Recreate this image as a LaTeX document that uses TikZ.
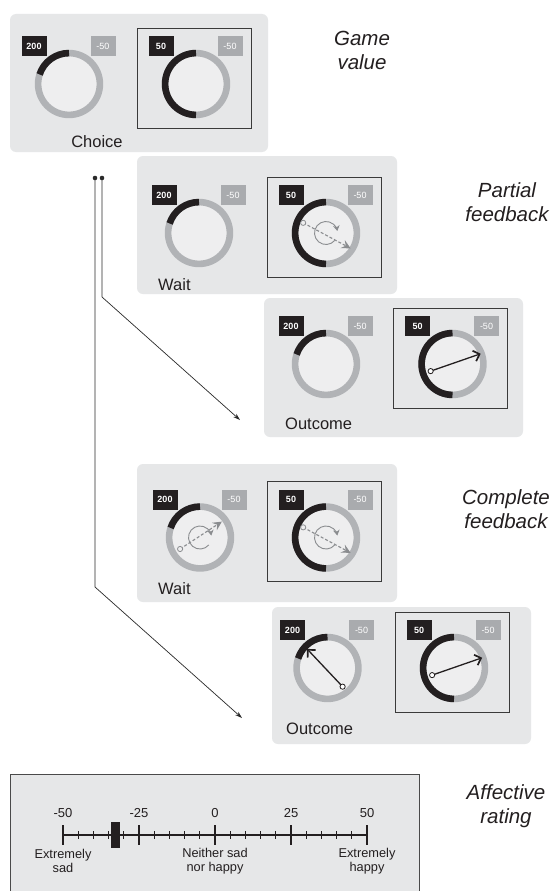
\documentclass[tikz,border=0pt]{standalone}
\usepackage{fontspec}
\setmainfont{Liberation Sans}
\usetikzlibrary{arrows.meta,calc}
\definecolor{panelgray}{HTML}{E6E7E8}
\definecolor{ringgray}{HTML}{B1B3B6}
\definecolor{ringblack}{HTML}{231F20}
\definecolor{facegray}{HTML}{EEEEEF}
\definecolor{boxgray}{HTML}{A9ABAE}
\definecolor{spingray}{HTML}{8A8C8F}
\definecolor{framecol}{HTML}{3A3A3A}
\definecolor{textcol}{HTML}{231F20}
\definecolor{conncol}{HTML}{2A2A2A}
\definecolor{ratingborder}{HTML}{4A4A4A}

\tikzset{
  panel/.style={fill=panelgray, rounded corners=6pt},
  framebox/.style={draw=framecol, line width=0.9pt},
  numblack/.style={fill=ringblack, text=white, font=\bfseries\fontsize{9}{9}\selectfont, minimum width=25pt, minimum height=20pt, inner sep=0pt},
  numgray/.style={fill=boxgray, text=white, font=\fontsize{9}{9}\selectfont, minimum width=25pt, minimum height=20pt, inner sep=0pt},
  phase/.style={font=\fontsize{16.5}{18}\selectfont, inner sep=0pt, text=textcol},
  sidelabel/.style={font=\itshape\fontsize{20.5}{24}\selectfont, align=center, inner sep=0pt, text=textcol},
  conn/.style={draw=conncol, line width=0.7pt},
  conntip/.style={-{Stealth[length=7pt,width=4.5pt]}},
  spinline/.style={draw=spingray, line width=1.1pt, dash pattern=on 3pt off 2pt, -{Stealth[length=9pt,width=9pt,inset=3.5pt]}},
  spincirc/.style={draw=spingray, line width=0.9pt, -{Stealth[length=5.5pt,width=6.5pt]}},
  needleline/.style={draw=ringblack, line width=1.3pt, -{Straight Barb[length=5.5pt,width=11pt,line width=1.7pt]}},
  scaletext/.style={font=\fontsize{13}{13}\selectfont, inner sep=0pt, text=textcol},
  scaledesc/.style={font=\fontsize{12.8}{13.5}\selectfont, inner sep=0pt, align=center, text=textcol},
}

% wheel: name, x, y, black end (visual angle), black label
\newcommand\wheelat[5]{%
  \coordinate (#1) at (#2,#3);
  \fill[facegray] (#1) circle[radius=31];
  \draw[ringgray, line width=6.6pt] (#1) circle[radius=30.9];
  \draw[ringblack, line width=6.6pt] (#1) ++(-90:30.9) arc[start angle=-90, end angle=-#4, radius=30.9];
  \node[numblack] (#1-v) at ([shift={(-35,-38)}]#1) {#5};
  \node[numgray] (#1-l) at ([shift={(34,-38)}]#1) {-50};
}
\newcommand\frameat[1]{%
  \draw[framebox] ([shift={(-59,-56)}]#1) rectangle ([shift={(55,44)}]#1);
}
% spinner: center, tail angle, tail r, tip angle, tip r (tikz angles, y down)
\newcommand\spinat[5]{%
  \draw[spincirc] (#1) ++(40:11.5) arc[start angle=40, end angle=350, radius=11.5];
  \coordinate (#1-st) at ($(#1)+(#2:#3)$);
  \coordinate (#1-sp) at ($(#1)+(#4:#5)$);
  \draw[spinline] (#1-st) -- (#1-sp);
  \draw[spingray, fill=facegray, line width=0.8pt] (#1-st) circle[radius=2.6];
}
\newcommand\needleat[5]{%
  \coordinate (#1-nt) at ($(#1)+(#2:#3)$);
  \coordinate (#1-np) at ($(#1)+(#4:#5)$);
  \draw[needleline] (#1-nt) -- (#1-np);
  \draw[ringblack, fill=white, line width=0.8pt] (#1-nt) circle[radius=2.6];
}

\begin{document}
\begin{tikzpicture}[x=1pt, y=-1pt]
\useasboundingbox (0,0) rectangle (554,891);
\fill[white] (0,0) rectangle (554,891);

% ---- Panel 1: Choice
\fill[panel] (10,14) rectangle (268,152);
\wheelat{a1}{69}{84}{162}{200}
\wheelat{a2}{196}{84}{270}{50}
\frameat{a2}
\node[phase] (choice) at (97,142) {Choice};
\node[sidelabel] (gv) at (362,50) {Game\\value};

% ---- Panel 2: Partial wait
\fill[panel] (137,156) rectangle (397,294);
\wheelat{b1}{199}{233}{162}{200}
\wheelat{b2}{326}{233}{270}{50}
\frameat{b2}
\spinat{b2}{-156}{25}{32}{29}
\node[phase, anchor=west] (wait1) at (158,285) {Wait};
\node[sidelabel] (pf) at (507,202) {Partial\\feedback};

% ---- Panel 3: Partial outcome
\fill[panel] (264,298) rectangle (523,437);
\wheelat{c1}{326}{364}{162}{200}
\wheelat{c2}{452.5}{364}{270}{50}
\frameat{c2}
\needleat{c2}{162}{23}{-20}{30}
\node[phase, anchor=west] (out1) at (285,424) {Outcome};

% ---- Panel 4: Complete wait
\fill[panel] (137,464) rectangle (397,602);
\wheelat{e1}{200}{537.5}{162}{200}
\wheelat{e2}{326}{537.5}{270}{50}
\frameat{e2}
\spinat{e1}{150}{23}{-36}{27}
\spinat{e2}{-156}{25}{32}{29}
\node[phase, anchor=west] (wait2) at (158,589) {Wait};
\node[sidelabel] (cf) at (506,509) {Complete\\feedback};

% ---- Panel 5: Complete outcome
\fill[panel] (272,607) rectangle (531,744);
\wheelat{f1}{327.5}{668}{162}{200}
\wheelat{f2}{454}{668}{270}{50}
\frameat{f2}
\needleat{f1}{51}{24}{-137}{28}
\needleat{f2}{162}{23}{-20}{30}
\node[phase, anchor=west] (out2) at (286,729) {Outcome};

% ---- Connectors
\coordinate (d1) at (95,178);
\coordinate (k1) at (95,587);
\coordinate (t1) at (242,718);
\coordinate (d2) at (102,178);
\coordinate (k2) at (102,297);
\coordinate (t2) at (240,420);
\draw[conn, conntip] (d1) -- (k1) -- (t1);
\draw[conn, conntip] (d2) -- (k2) -- (t2);
\fill[conncol] (d1) circle[radius=2.3];
\fill[conncol] (d2) circle[radius=2.3];

% ---- Affective rating
\draw[fill=panelgray, draw=ratingborder, line width=0.8pt] (10,774) rectangle (419,891.5);
\draw[ringblack, line width=1.8pt] (63,835) -- (367,835);
\foreach \k in {5,10,15,20,30,35,40,45,55,60,65,70,80,85,90,95}{
  \draw[ringblack, line width=0.9pt] ({63+\k*3.04},831) -- ({63+\k*3.04},839);
}
\foreach \k/\lab [count=\i] in {0/-50,25/-25,50/0,75/25,100/50}{
  \coordinate (s\i) at ({63+\k*3.04},835);
  \draw[ringblack, line width=1.8pt] ({63+\k*3.04},825) -- ({63+\k*3.04},845);
  \node[scaletext] (n\i) at ({63+\k*3.04},813) {\lab};
}
\fill[ringblack] (111,822) rectangle (120,848);
\node[scaledesc] (es) at (63,861) {Extremely\\sad};
\node[scaledesc] (nn) at (215,861) {Neither sad\\nor happy};
\node[scaledesc] (eh) at (367,861) {Extremely\\happy};
\node[sidelabel] (ar) at (506,806) {Affective\\rating};
\end{tikzpicture}
\end{document}
